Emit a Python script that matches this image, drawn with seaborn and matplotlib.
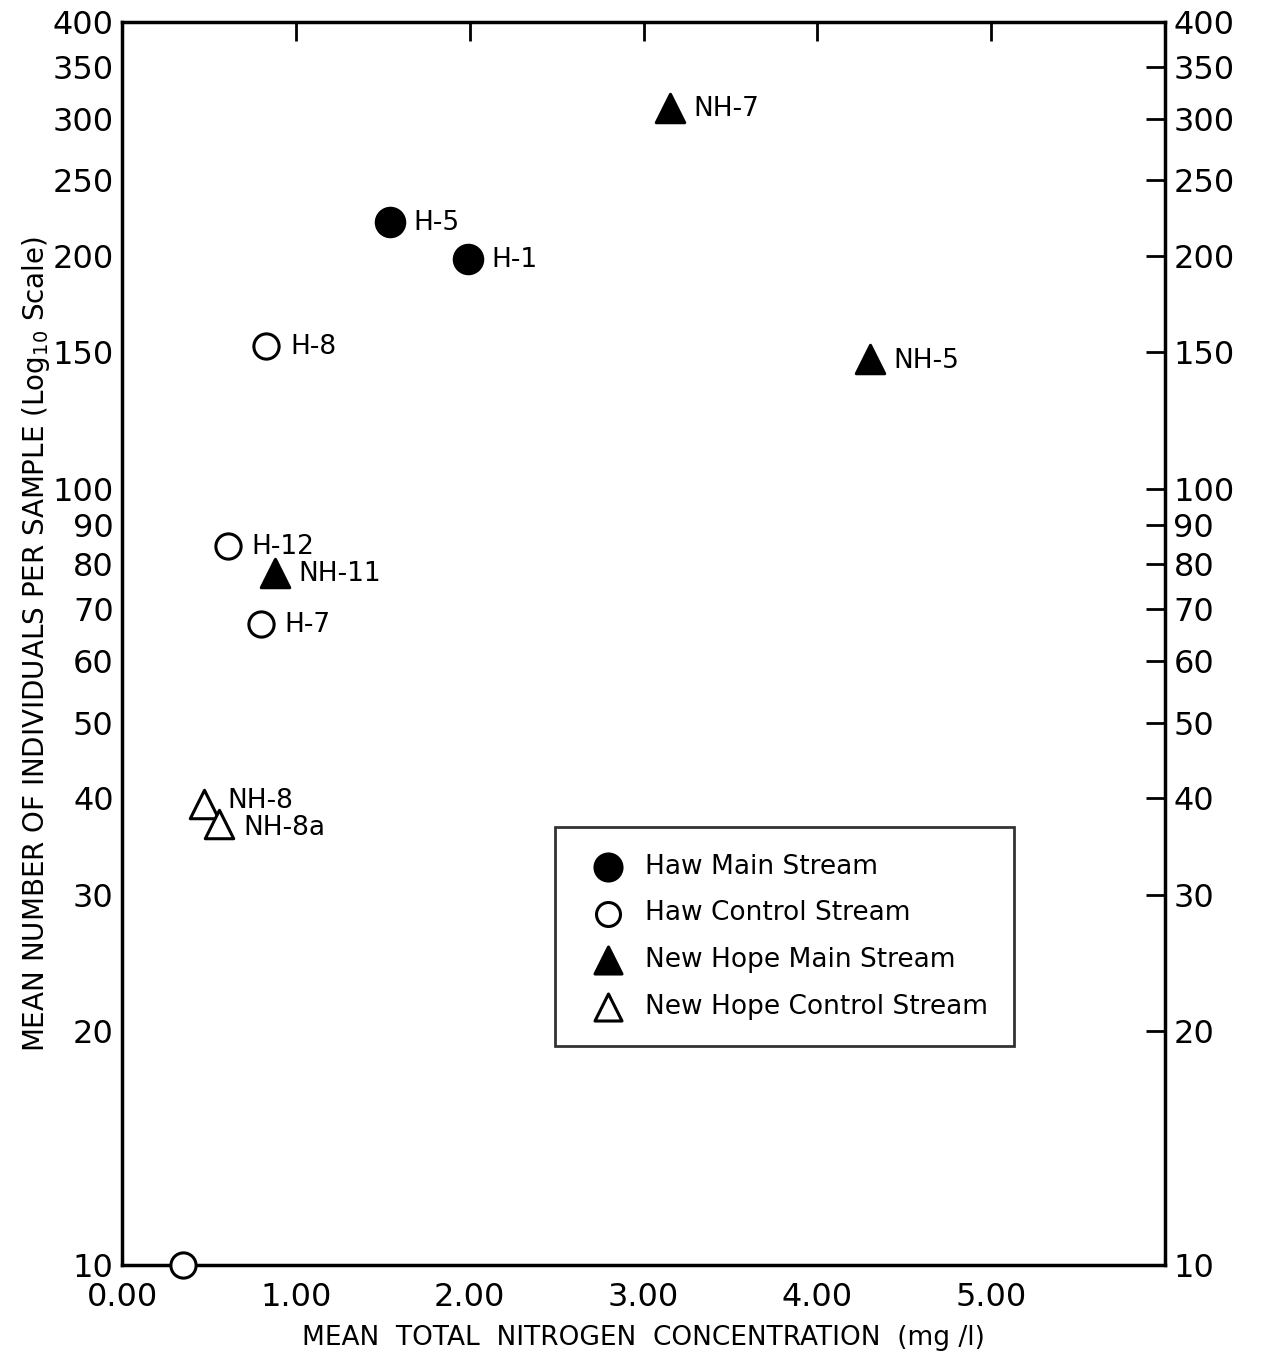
import matplotlib

matplotlib.use("Agg")
import matplotlib.pyplot as plt
import pandas as pd
import seaborn as sns

# values
stations = ["H-5", "H-1", "H-8", "H-12", "H-7", "", "NH-7", "NH-5", "NH-11", "NH-8", "NH-8a"]
nitrogen = [1.54, 1.99, 0.83, 0.61, 0.80, 0.35, 3.15, 4.30, 0.88, 0.47, 0.56]
individuals = [221, 198, 153, 84.5, 67, 10, 310, 147, 78, 39.3, 37]
groups = [
    "Haw Main Stream", "Haw Main Stream",
    "Haw Control Stream", "Haw Control Stream", "Haw Control Stream", "Haw Control Stream",
    "New Hope Main Stream", "New Hope Main Stream", "New Hope Main Stream",
    "New Hope Control Stream", "New Hope Control Stream",
]

y_ticks = [10, 20, 30, 40, 50, 60, 70, 80, 90, 100, 150, 200, 250, 300, 350, 400]
x_ticks = [0, 1, 2, 3, 4, 5]
x_labels = ["0.00", "1.00", "2.00", "3.00", "4.00", "5.00"]

styles = {
    "Haw Main Stream": dict(marker="o", facecolor="black", s=420),
    "Haw Control Stream": dict(marker="o", facecolor="white", s=330),
    "New Hope Main Stream": dict(marker="^", facecolor="black", s=420),
    "New Hope Control Stream": dict(marker="^", facecolor="white", s=420),
}

# small nudges so the two NH-8 labels do not touch
label_dy = {"NH-8": 2, "NH-8a": -3}


def main() -> None:
    df = pd.DataFrame({"station": stations, "n": nitrogen, "ind": individuals, "group": groups})

    sns.set_style("white")
    plt.rcParams["font.family"] = ["DejaVu Sans"]
    plt.rcParams["text.color"] = "black"
    plt.rcParams["axes.labelcolor"] = "black"
    plt.rcParams["xtick.color"] = "black"
    plt.rcParams["ytick.color"] = "black"

    fig = plt.figure(figsize=(12.62, 13.56), dpi=100)
    ax = fig.add_axes([0.0967, 0.0671, 0.8265, 0.9167])

    for name, st in styles.items():
        sub = df[df["group"] == name]
        sns.scatterplot(
            data=sub, x="n", y="ind", ax=ax, marker=st["marker"], s=st["s"],
            color=st["facecolor"], edgecolor="black", linewidth=2.2,
            label=name, clip_on=False, zorder=5,
        )

    for _, row in df.iterrows():
        if row["station"]:
            dy = label_dy.get(row["station"], -1)
            ax.annotate(row["station"], (row["n"], row["ind"]), xytext=(17, dy),
                        textcoords="offset points", va="center", ha="left", fontsize=19)

    ax.set_yscale("log")
    ax.set_xlim(0, 6.0)
    ax.set_ylim(10, 400)
    ax.set_yticks(y_ticks)
    ax.set_yticklabels([str(v) for v in y_ticks])
    ax.minorticks_off()
    ax.set_xticks(x_ticks)
    ax.set_xticklabels(x_labels)

    ax.tick_params(axis="both", which="major", direction="in", length=14, width=2,
                   labelsize=23, top=True, right=True, labelright=True)
    ax.tick_params(axis="x", pad=12)
    ax.tick_params(axis="y", pad=6)
    for sp in ax.spines.values():
        sp.set_linewidth(2.5)
        sp.set_color("black")

    ax.set_xlabel("MEAN  TOTAL  NITROGEN  CONCENTRATION  (mg /l)", fontsize=19, labelpad=9)
    ax.set_ylabel("MEAN NUMBER OF INDIVIDUALS PER SAMPLE (Log$_{10}$ Scale)", fontsize=20, labelpad=0)

    leg = ax.legend(loc="upper left", bbox_to_anchor=(0.415, 0.352), frameon=True, fancybox=False,
                    fontsize=19, handletextpad=0.4, labelspacing=0.78, borderpad=1.0,
                    markerscale=0.95, borderaxespad=0)
    frame = leg.get_frame()
    frame.set_linewidth(2)
    frame.set_edgecolor("black")

    fig.savefig("out.png", dpi=100)
    plt.close(fig)


if __name__ == "__main__":
    main()
